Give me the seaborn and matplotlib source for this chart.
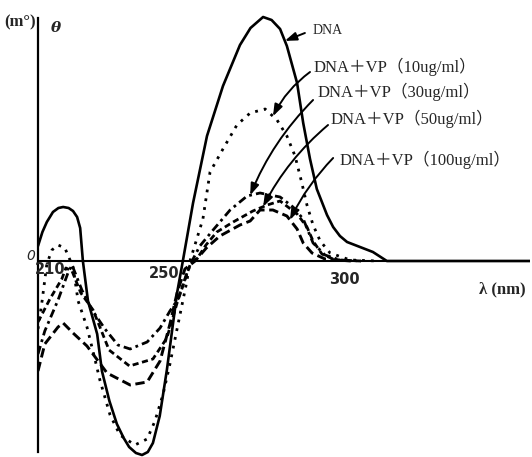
import numpy as np
import pandas as pd
import matplotlib
matplotlib.use("Agg")
import matplotlib.pyplot as plt
import seaborn as sns

# ---- data (wavelength nm, ellipticity in arbitrary m° units)
dna_wl = [210.0, 211.3, 212.6, 214.4, 216.0, 217.4, 219.0, 220.3, 221.5, 222.4, 223.2, 224.7,
          227.4, 228.8, 231.0, 233.2, 235.2, 236.8, 238.8, 240.6, 242.3, 243.8, 245.8, 247.9,
          250.9, 252.6, 255.6, 259.7, 264.4, 269.4, 272.5, 276.2, 278.7, 281.2, 283.2, 286.2,
          288.0, 290.0, 292.0, 295.0, 296.8, 298.8, 300.9, 304.7, 308.5, 312.6, 320.0, 354.7]
dna_cd = [1.5, 2.9, 3.9, 4.9, 5.3, 5.4, 5.3, 5.0, 4.4, 3.3, 0.0, -4.0,
          -7.3, -11.0, -14.0, -16.3, -17.7, -18.6, -19.2, -19.4, -19.1, -18.2, -15.5, -10.9,
          -3.2, 0.0, 5.8, 12.5, 17.5, 21.6, 23.3, 24.4, 24.1, 23.2, 21.5, 17.8,
          13.8, 10.2, 7.2, 4.6, 3.4, 2.5, 1.9, 1.4, 0.9, 0.0, 0.0, 0.0]

vp10_wl = [210.0, 211.2, 212.6, 214.1, 215.9, 217.9, 220.3, 221.8, 224.4, 226.8, 228.2, 231.2,
           234.1, 238.5, 242.1, 244.4, 246.8, 248.8, 251.8, 253.8, 254.7, 258.5, 260.6, 264.4,
           268.5, 272.4, 276.8, 280.3, 283.2, 285.6, 287.6, 289.1, 290.9, 293.0, 295.9, 301.8, 310.0]
vp10_cd = [-6.8, -4.0, -0.3, 1.1, 1.6, 1.3, -0.6, -4.0, -6.6, -9.9, -11.9, -15.4,
           -17.4, -18.4, -17.8, -16.0, -13.3, -10.3, -5.3, -2.0, 0.0, 4.2, 8.9, 11.2,
           13.6, 14.8, 15.2, 14.1, 12.5, 10.5, 7.8, 5.6, 3.6, 2.0, 0.8, 0.1, 0.0]

vp30_wl = [210.0, 212.0, 215.9, 218.8, 220.0, 222.9, 225.9, 229.7, 233.5, 237.1, 242.1, 245.9,
           248.8, 251.2, 254.1, 255.6, 257.6, 261.5, 266.5, 271.5, 275.3, 281.2, 285.0, 288.0,
           290.9, 294.4, 298.8, 305.0]
vp30_cd = [-9.3, -7.0, -3.9, -1.2, -0.4, -2.9, -4.9, -6.8, -8.4, -8.8, -8.1, -6.7,
           -5.0, -3.8, -0.9, 0.2, 1.5, 3.1, 5.1, 6.5, 6.8, 6.4, 5.4, 4.2,
           1.8, 0.6, 0.1, 0.0]

vp50_wl = [210.0, 213.5, 217.0, 218.2, 220.0, 222.6, 226.2, 230.9, 236.9, 243.8, 247.9, 250.9,
           254.7, 257.1, 259.4, 262.6, 267.4, 273.2, 277.4, 281.2, 286.2, 289.1, 290.9, 293.5,
           297.4, 305.0]
vp50_cd = [-6.1, -3.8, -1.8, -0.7, -1.0, -3.2, -4.9, -8.9, -10.5, -9.8, -7.7, -4.2,
           -0.4, 0.4, 1.6, 2.9, 3.9, 5.0, 5.6, 6.0, 4.7, 3.4, 2.0, 0.7,
           0.1, 0.0]

vp100_wl = [210.0, 212.0, 215.9, 217.4, 220.3, 224.4, 230.3, 237.1, 242.1, 245.9, 248.8, 250.9,
            253.2, 256.2, 259.5, 263.5, 269.4, 272.4, 275.3, 279.1, 283.2, 286.2, 288.0, 290.6,
            294.4, 302.0]
vp100_cd = [-11.0, -8.3, -6.6, -6.2, -7.2, -8.5, -11.2, -12.4, -12.1, -10.0, -6.3, -3.2,
            -0.8, 0.0, 1.3, 2.5, 3.6, 4.0, 5.1, 5.1, 4.5, 3.2, 1.8, 0.8,
            0.2, 0.0]

series_labels = ["DNA", "DNA＋VP（10ug/ml）", "DNA＋VP（30ug/ml）",
                 "DNA＋VP（50ug/ml）", "DNA＋VP（100ug/ml）"]
tick_values = [210, 250, 300]
tick_labels = ["210", "250", "300"]

# ---- figure
sns.set_style("white")
plt.rcParams["font.family"] = ["Liberation Serif", "Noto Sans CJK SC", "DejaVu Sans"]

fig = plt.figure(figsize=(5.32, 4.57), dpi=100)
ax = fig.add_axes([38 / 532, 0.0, 492 / 532, (457 - 11) / 457])
ax.set_xlim(210, 354.7)
ax.set_ylim(-19.6, 25.0)

series = [
    (dna_wl, dna_cd, dict(lw=1.9, linestyle="-")),
    (vp10_wl, vp10_cd, dict(lw=2.0, linestyle=(0, (1, 2.2)))),
    (vp30_wl, vp30_cd, dict(lw=2.0, linestyle=(0, (3, 1.5, 1, 1.5)))),
    (vp50_wl, vp50_cd, dict(lw=2.0, linestyle=(0, (2.2, 1.3)))),
    (vp100_wl, vp100_cd, dict(lw=2.1, linestyle=(0, (3.2, 1.6)))),
]
for wl, cd, style in series:
    df = pd.DataFrame({"wl": wl, "cd": cd})
    sns.lineplot(data=df, x="wl", y="cd", ax=ax, color="black", estimator=None,
                 sort=False, **style)

# axes: only a left y axis and a zero baseline
for s in ["top", "right", "bottom"]:
    ax.spines[s].set_visible(False)
ax.spines["left"].set_linewidth(1.6)
ax.spines["left"].set_color("black")
ax.spines["left"].set_bounds(-19.1, 24.3)
ax.axhline(0, color="black", lw=1.5)
ax.set_xticks([])
ax.set_yticks([])
ax.set_xlabel("")
ax.set_ylabel("")

sans = ["DejaVu Sans"]
ax.text(213.5, -0.8, tick_labels[0], ha="center", va="center", fontsize=10.5,
        family=sans, fontweight="bold")
ax.text(247.1, -1.2, tick_labels[1], ha="center", va="center", fontsize=10.5,
        family=sans, fontweight="bold")
ax.text(300.0, -1.9, tick_labels[2], ha="center", va="center", fontsize=10.5,
        family=sans, fontweight="bold")
ax.text(207.9, 0.5, "0", ha="center", va="center", fontsize=10, style="italic",
        family=sans)
ax.text(346.5, -2.8, "λ (nm)", ha="center", va="center", fontsize=12,
        fontweight="bold", family=["Liberation Serif"])
ax.text(204.6, 23.9, "(m°)", ha="center", va="center", fontsize=12,
        fontweight="bold", family=["Liberation Serif"])
ax.text(215.3, 23.3, "θ", ha="center", va="center", fontsize=11,
        style="italic", fontweight="bold", family=["DejaVu Serif"])

# labels with arrows
label_font = ["Liberation Serif", "Noto Sans CJK SC"]
annos = [
    (series_labels[0], (290.6, 23.1), (288.5, 22.8), dna_wl, dna_cd, 282.6, 10, 0.0),
    (series_labels[1], (290.9, 19.4), (290.0, 18.9), vp10_wl, vp10_cd, 279.1, 12, 0.12),
    (series_labels[2], (292.1, 16.9), (290.9, 16.1), vp30_wl, vp30_cd, 272.4, 12, 0.1),
    (series_labels[3], (295.9, 14.2), (295.3, 13.6), vp50_wl, vp50_cd, 276.2, 12, 0.1),
    (series_labels[4], (298.8, 10.1), (296.8, 10.3), vp100_wl, vp100_cd, 284.1, 12, 0.08),
]
for text, tpos, apos, wl, cd, tx, fs, rad in annos:
    ax.text(tpos[0], tpos[1], text, ha="left", va="center", fontsize=fs, family=label_font)
    ty = float(np.interp(tx, wl, cd))
    ax.annotate("", xy=(tx, ty), xytext=apos,
                arrowprops=dict(arrowstyle="-|>,head_length=0.7,head_width=0.25",
                                color="black", lw=1.4,
                                connectionstyle=f"arc3,rad={rad}",
                                shrinkA=0, shrinkB=0))

fig.savefig("out.png", dpi=100)
